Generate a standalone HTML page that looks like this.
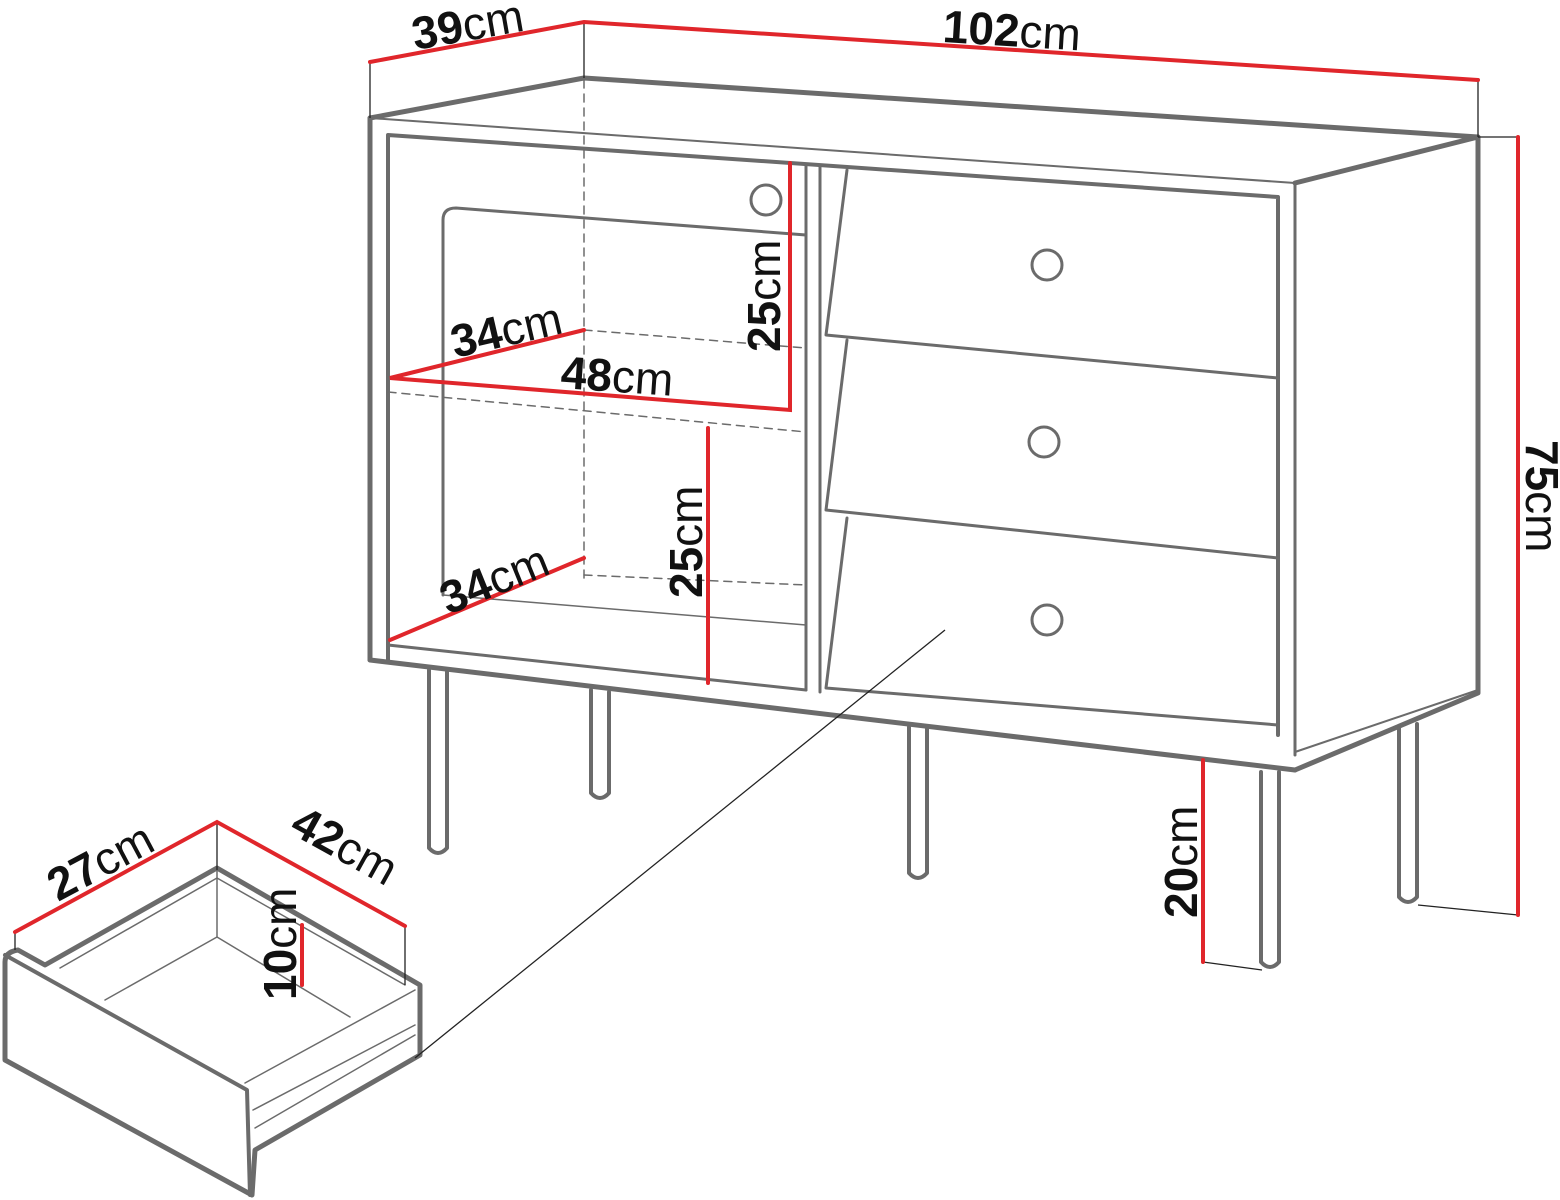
<!DOCTYPE html>
<html><head><meta charset="utf-8"><style>
html,body{margin:0;padding:0;background:#fff;}
svg{display:block;}
text{font-family:"Liberation Sans",sans-serif;fill:#111;}
.b{font-weight:bold;}
</style></head><body>
<svg width="1560" height="1200" viewBox="0 0 1560 1200" xmlns="http://www.w3.org/2000/svg">
<g fill="none" stroke="#6b6b6b" stroke-linejoin="round" stroke-linecap="round">
<path d="M370,118 L584,78 L1478,137 L1295,183" stroke-width="5"/>
<path d="M370,118 L1295,183" stroke-width="2"/>
<path d="M370,118 L370,660" stroke-width="5"/>
<path d="M1295,183 L1295,755" stroke-width="3"/>
<path d="M1478,137 L1478,693 L1295,770" stroke-width="5"/>
<path d="M370,660 L1295,770" stroke-width="5"/>
<path d="M1295,752 L1478,690" stroke-width="2"/>
<path d="M388,660 L388,135 L1278,197 L1278,735" stroke-width="4"/>
<path d="M388,645 L806,690" stroke-width="3"/>
<path d="M806,165 L806,690 M820,167 L820,692" stroke-width="3"/>
<path d="M443,595 L443,220 Q443,208 456,208 L806,235" stroke-width="3"/>
<path d="M443,595 L806,625" stroke-width="1.5"/>
<path d="M388,392 L806,432" stroke-width="1.5" stroke-dasharray="8,6"/>
<path d="M584,80 L584,580" stroke-width="1.5" stroke-dasharray="8,6"/>
<path d="M584,330 L806,348 M584,575 L806,585" stroke-width="1.5" stroke-dasharray="8,6"/>
<path d="M847,170 L826,335 L1278,378" stroke-width="3"/>
<path d="M847,340 L826,510 L1278,558" stroke-width="3"/>
<path d="M847,518 L826,688 L1278,725" stroke-width="3"/>
<circle cx="1047" cy="265" r="15" stroke-width="3"/>
<circle cx="1044" cy="442" r="15" stroke-width="3"/>
<circle cx="1047" cy="620" r="15" stroke-width="3"/>
<circle cx="766" cy="200" r="15" stroke-width="3"/>
<g stroke-width="4">
<path d="M429,670 L429,848 Q438,858 447,848 L447,672"/>
<path d="M591,690 L591,793 Q600,803 609,793 L609,692"/>
<path d="M909,727 L909,873 Q918,883 927,873 L927,729"/>
<path d="M1261,772 L1261,962 Q1270,972 1279,962 L1279,772"/>
<path d="M1399,728 L1399,897 Q1408,907 1417,897 L1417,724"/>
</g>
<path d="M5,962 Q5,952 18,950 L45,965 L217,868 L420,985 L420,1055 L255,1150 L252,1195 L5,1060 Z" stroke-width="5"/>
<path d="M5,955 L247,1090 L250,1195" stroke-width="4"/>
<path d="M60,968 L217,878 L405,985" stroke-width="1.5"/>
<path d="M105,1000 L217,937 L350,1017" stroke-width="1.5"/>
<path d="M217,868 L217,937" stroke-width="1.5"/>
<path d="M245,1083 L415,990 M253,1110 L415,1025 M255,1128 L415,1035" stroke-width="1.5"/>
</g>
<g stroke="#222" stroke-width="1.3" fill="none">
<path d="M370,62 L370,118 M584,22 L584,78 M1478,80 L1478,137"/>
<path d="M1478,137 L1518,137 M1418,905 L1518,915"/>
<path d="M1203,962 L1262,970"/>
<path d="M217,822 L217,870 M15,932 L15,950 M405,926 L405,985"/>
<path d="M945,630 L415,1058"/>
</g>
<g stroke="#e0262b" stroke-width="4" fill="none" stroke-linecap="round">
<path d="M370,62 L584,22 L1478,80"/>
<path d="M1518,137 L1518,915"/>
<path d="M1203,760 L1203,962"/>
<path d="M790,163 L790,410 L390,378 L584,330"/>
<path d="M708,428 L708,683"/>
<path d="M390,640 L584,558"/>
<path d="M15,932 L217,822 L405,926"/>
<path d="M302,925 L302,985"/>
</g>
<g font-size="46">
<text transform="translate(415,50) rotate(-10)"><tspan class="b">39</tspan>cm</text>
<text transform="translate(942,42) rotate(3.5)"><tspan class="b">102</tspan>cm</text>
<text transform="translate(1526,440) rotate(90)"><tspan class="b">75</tspan>cm</text>
<text transform="translate(780,352) rotate(-90)"><tspan class="b">25</tspan>cm</text>
<text transform="translate(455,358) rotate(-13)"><tspan class="b">34</tspan>cm</text>
<text transform="translate(560,388) rotate(4)"><tspan class="b">48</tspan>cm</text>
<text transform="translate(702,598) rotate(-90)"><tspan class="b">25</tspan>cm</text>
<text transform="translate(448,615) rotate(-22)"><tspan class="b">34</tspan>cm</text>
<text transform="translate(1197,918) rotate(-90)"><tspan class="b">20</tspan>cm</text>
<text transform="translate(58,902) rotate(-28)"><tspan class="b">27</tspan>cm</text>
<text transform="translate(288,832) rotate(29)"><tspan class="b">42</tspan>cm</text>
<text transform="translate(296,1000) rotate(-90)"><tspan class="b">10</tspan>cm</text>
</g>
</svg>
</body></html>
